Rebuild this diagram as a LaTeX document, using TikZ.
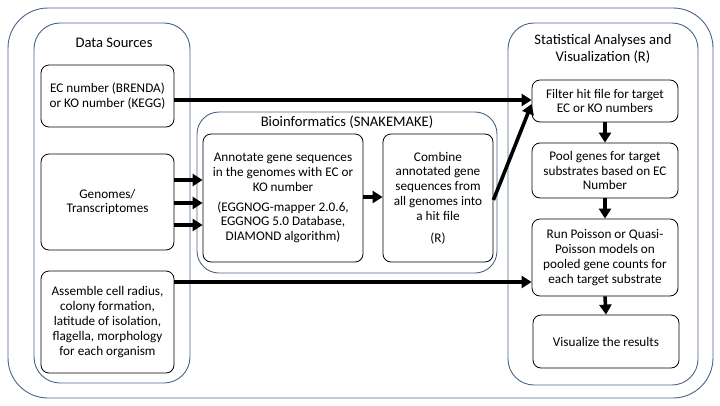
\documentclass[tikz,border=0pt]{standalone}
\usepackage{fontspec}
\setmainfont{Carlito}
\usetikzlibrary{arrows.meta,calc}
\definecolor{frame}{HTML}{4A6488}
\tikzset{
  container/.style={draw=frame, line width=0.9pt, rounded corners=#1},
  boxx/.style={draw=black, line width=0.8pt, rounded corners=8pt, align=center, inner sep=1pt,
    font=\fontsize{13.2}{14.8}\selectfont},
  ttl/.style={align=center, font=\fontsize{14.6}{17}\selectfont},
  arr/.style={line width=3.6pt, -{Triangle[length=10pt,width=12pt]}},
}
\begin{document}
\begin{tikzpicture}[x=1pt,y=-1pt]
\useasboundingbox (0,0) rectangle (720,405);
% containers
\node[container=40pt, minimum width=705pt, minimum height=390pt] (outer) at (360.5,203) {};
\node[container=26pt, minimum width=156pt, minimum height=360pt] (ds) at (112,203) {};
\node[container=22pt, minimum width=300pt, minimum height=161pt] (bio) at (347,192.5) {};
\node[container=26pt, minimum width=190pt, minimum height=362pt] (stat) at (603,204) {};
% titles
\node[ttl] (dst) at (114,43) {Data Sources};
\node[ttl] (biot) at (347,122) {Bioinformatics (SNAKEMAKE)};
\node[ttl] (statt) at (603,48.5) {Statistical Analyses and\\Visualization (R)};
% data sources
\node[boxx, minimum width=133pt, minimum height=62pt] (ec) at (107.5,96) {EC number (BRENDA)\\or KO number (KEGG)};
\node[boxx, minimum width=133pt, minimum height=96pt] (gen) at (107.5,202) {Genomes/\\Transcriptomes};
\node[boxx, minimum width=133pt, minimum height=102pt] (asm) at (107.5,322) {Assemble cell radius,\\colony formation,\\latitude of isolation,\\flagella, morphology\\for each organism};
% bioinformatics
\node[boxx, minimum width=160pt, minimum height=128pt] (ann) at (283,198) {Annotate gene sequences\\in the genomes with EC or\\KO number\\[5pt](EGGNOG-mapper 2.0.6,\\EGGNOG 5.0 Database,\\DIAMOND algorithm)};
\node[boxx, minimum width=110pt, minimum height=128pt] (comb) at (438,198) {Combine\\annotated gene\\sequences from\\all genomes into\\a hit file\\[7pt](R)};
% statistics
\node[boxx, minimum width=146pt, minimum height=42pt] (filt) at (605,101) {Filter hit file for target\\EC or KO numbers};
\node[boxx, minimum width=146pt, minimum height=55pt] (pool) at (605,170.5) {Pool genes for target\\substrates based on EC\\Number};
\node[boxx, minimum width=146pt, minimum height=77pt] (run) at (605,257.5) {Run Poisson or Quasi-\\Poisson models on\\pooled gene counts for\\each target substrate};
\node[boxx, minimum width=146pt, minimum height=53pt] (vis) at (606,341.5) {Visualize the results};
% arrows
\draw[arr] ([yshift=-4pt]ec.east) -- ([yshift=-4pt]ec.east -| filt.west);
\draw[arr] ([yshift=22pt]gen.east) -- ([yshift=22pt]gen.east -| ann.west);
\draw[arr] ([yshift=-1pt]gen.east) -- ([yshift=-1pt]gen.east -| ann.west);
\draw[arr] ([yshift=-23pt]gen.east) -- ([yshift=-23pt]gen.east -| ann.west);
\draw[arr] ([yshift=1pt]ann.east) -- ([yshift=1pt]ann.east -| comb.west);
\draw[arr] ([yshift=-2pt]comb.east) -- ([yshift=-3pt]filt.west);
\draw[arr] ([yshift=40pt]asm.east) -- ([yshift=40pt]asm.east -| run.west);
\draw[arr] (filt.south) -- (pool.north);
\draw[arr] (pool.south) -- (run.north);
\draw[arr] (run.south) -- (vis.north);
\end{tikzpicture}
\end{document}
